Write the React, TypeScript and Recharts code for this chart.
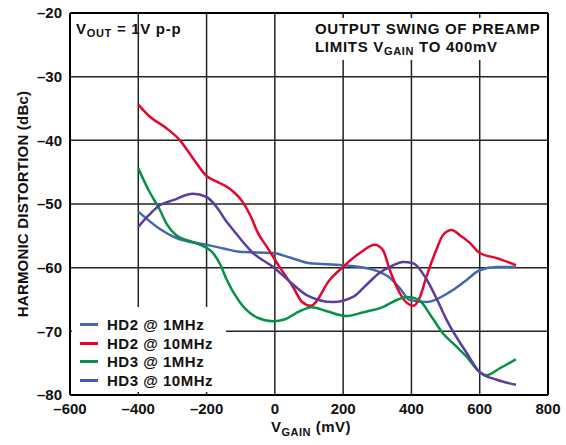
import {
  LineChart,
  Line,
  XAxis,
  YAxis,
  CartesianGrid,
  ReferenceLine,
  Legend,
} from "recharts";

type Pt = { x: number; y: number };

const X_TICKS = [-600, -400, -200, 0, 200, 400, 600, 800];
const Y_TICKS = [-80, -70, -60, -50, -40, -30, -20];

// V_GAIN (mV) vs dBc
const hd2At1MHz: Pt[] = [
  [-400, -51.2], [-340, -53.8], [-290, -55.3], [-200, -56.4], [-150, -57.0],
  [-103, -57.5], [-5, -57.7], [44, -58.4], [102, -59.3], [199, -59.6],
  [287, -60.3], [337, -61.6], [370, -63.5], [395, -65.1], [445, -65.4],
  [513, -63.8], [560, -62.0], [600, -60.4], [650, -59.9], [706, -59.9],
].map(([x, y]) => ({ x, y }));

const hd2At10MHz: Pt[] = [
  [-400, -34.4], [-366, -36.3], [-320, -38.0], [-278, -40.0], [-240, -42.8],
  [-200, -45.6], [-170, -46.5], [-132, -47.6], [-94, -49.7], [-70, -52.0],
  [-50, -54.5], [-20, -57.0], [15, -60.0], [53, -63.0], [80, -65.4],
  [105, -66.0], [161, -61.9], [199, -59.9], [249, -57.7], [293, -56.4],
  [316, -57.2], [337, -60.4], [361, -63.5], [386, -65.5], [405, -66.0],
  [425, -64.6], [444, -61.4], [473, -57.2], [492, -54.9], [518, -54.1],
  [542, -54.9], [571, -56.1], [600, -57.7], [650, -58.5], [706, -59.6],
].map(([x, y]) => ({ x, y }));

const hd3At1MHz: Pt[] = [
  [-400, -44.4], [-370, -47.8], [-337, -50.9], [-316, -53.2], [-287, -55.0],
  [-250, -55.8], [-220, -56.4], [-181, -57.7], [-160, -59.5], [-141, -61.9],
  [-103, -65.4], [-53, -67.8], [-5, -68.4], [30, -68.1], [60, -67.2],
  [108, -66.2], [150, -66.8], [210, -67.6], [260, -67.0], [316, -66.2],
  [360, -65.0], [386, -64.6], [410, -64.8], [425, -65.2], [460, -67.8],
  [492, -70.3], [530, -72.3], [562, -74.0], [600, -76.4], [620, -76.9],
  [659, -75.8], [706, -74.4],
].map(([x, y]) => ({ x, y }));

const hd3At10MHz: Pt[] = [
  [-400, -53.6], [-370, -51.8], [-337, -50.2], [-298, -49.4], [-240, -48.4],
  [-200, -48.9], [-170, -50.5], [-145, -52.5], [-123, -54.0], [-64, -57.7],
  [-5, -59.9], [44, -62.2], [93, -64.3], [171, -65.4], [229, -64.6],
  [270, -62.6], [307, -60.8], [340, -59.8], [376, -59.1], [405, -59.3],
  [445, -61.9], [475, -65.0], [503, -68.2], [562, -73.4], [600, -76.4],
  [650, -77.6], [706, -78.4],
].map(([x, y]) => ({ x, y }));

const SERIES = [
  { name: "HD2 @ 1MHz", data: hd2At1MHz, color: "#3f6aae", legendColor: "#3f6aae" },
  { name: "HD2 @ 10MHz", data: hd2At10MHz, color: "#e4062d", legendColor: "#e4062d" },
  { name: "HD3 @ 1MHz", data: hd3At1MHz, color: "#079046", legendColor: "#079046" },
  { name: "HD3 @ 10MHz", data: hd3At10MHz, color: "#5a3d9e", legendColor: "#3d5fa8" },
];

const FONT = "'Liberation Sans', Arial, Helvetica, sans-serif";
const GRID = "#222";

function dashMinus(v: number): string {
  return v < 0 ? `\u2013${-v}` : String(v);
}

function XLabel(props: any) {
  const vb = props.viewBox ?? { x: 70, y: 395, width: 478 };
  const cx = vb.x + vb.width / 2;
  return (
    <text
      x={cx + 2}
      y={432}
      textAnchor="middle"
      fontFamily={FONT}
      fontWeight="bold"
      fontSize={15}
      letterSpacing={0.5}
      fill="#111"
    >
      <tspan>V</tspan>
      <tspan fontSize={11} dy={4}>GAIN</tspan>
      <tspan dy={-4}> (mV)</tspan>
    </text>
  );
}

function YLabel(props: any) {
  const vb = props.viewBox ?? { y: 13, height: 382 };
  const cy = vb.y + vb.height / 2;
  return (
    <text
      x={22}
      y={cy}
      transform={`rotate(-90 22 ${cy})`}
      textAnchor="middle"
      dominantBaseline="central"
      fontFamily={FONT}
      fontWeight="bold"
      fontSize={15}
      letterSpacing={0.2}
      fill="#111"
    >
      HARMONIC DISTORTION (dBc)
    </text>
  );
}

function LegendBox() {
  return (
    <div style={{ background: "#fff", padding: "8px 0 0 8px", width: 146, height: 77 }}>
      {SERIES.map((s) => (
        <div key={s.name} style={{ display: "flex", alignItems: "center", height: 18.7 }}>
          <span style={{ width: 18, height: 3, background: s.legendColor, display: "inline-block" }} />
          <span
            style={{
              marginLeft: 9,
              fontSize: 15,
              letterSpacing: 0.5,
              fontWeight: "bold",
              color: "#111",
              fontFamily: FONT,
              whiteSpace: "nowrap",
            }}
          >
            {s.name}
          </span>
        </div>
      ))}
    </div>
  );
}

export default function App() {
  const tickStyle = { fontSize: 15, fontWeight: "bold", fill: "#111", fontFamily: FONT };
  return (
    <div style={{ position: "absolute", left: 0, top: 0, width: 566, height: 445, background: "#fff", fontFamily: FONT }}>
      <LineChart width={566} height={445} margin={{ top: 13, right: 18, bottom: 0, left: 0 }}>
        <CartesianGrid stroke={GRID} strokeWidth={1.5} />
        <XAxis
          type="number"
          dataKey="x"
          domain={[-600, 800]}
          ticks={X_TICKS}
          allowDataOverflow
          tickLine={false}
          axisLine={{ stroke: "#000", strokeWidth: 2 }}
          tick={tickStyle}
          tickFormatter={dashMinus}
          height={50}
          label={{ content: XLabel }}
        />
        <YAxis
          type="number"
          domain={[-80, -20]}
          ticks={Y_TICKS}
          allowDataOverflow
          tickLine={false}
          axisLine={{ stroke: "#000", strokeWidth: 2 }}
          tick={tickStyle}
          tickFormatter={dashMinus}
          width={70}
          label={{ content: YLabel }}
        />
        <ReferenceLine y={-20} stroke="#000" strokeWidth={2} />
        <ReferenceLine x={800} stroke="#000" strokeWidth={2} />
        {SERIES.map((s) => (
          <Line
            key={s.name}
            data={s.data}
            dataKey="y"
            name={s.name}
            type="monotone"
            stroke={s.color}
            strokeWidth={2.5}
            dot={false}
            isAnimationActive={false}
          />
        ))}
        <Legend
          layout="horizontal"
          verticalAlign="middle"
          align="center"
          content={LegendBox}
          wrapperStyle={{ position: "absolute", left: 72, top: 307, width: 154, height: 85 }}
        />
      </LineChart>
      <div
        style={{
          position: "absolute",
          left: 76,
          top: 21,
          fontSize: 15,
          letterSpacing: 0.7,
          fontWeight: "bold",
          color: "#111",
          lineHeight: "16px",
          whiteSpace: "nowrap",
        }}
      >
        V<sub style={{ fontSize: 11, verticalAlign: "-3px" }}>OUT</sub> = 1V p-p
      </div>
      <div
        style={{
          position: "absolute",
          left: 313,
          top: 18,
          width: 232,
          height: 42,
          background: "#fff",
          fontSize: 15,
          letterSpacing: 0.7,
          fontWeight: "bold",
          color: "#111",
          lineHeight: "18px",
          whiteSpace: "nowrap",
          paddingLeft: 2,
          boxSizing: "border-box",
        }}
      >
        <div style={{ marginTop: 2 }}>OUTPUT SWING OF PREAMP</div>
        <div>
          LIMITS V<sub style={{ fontSize: 11, verticalAlign: "-3px", lineHeight: 0 }}>GAIN</sub> TO 400mV
        </div>
      </div>
    </div>
  );
}
